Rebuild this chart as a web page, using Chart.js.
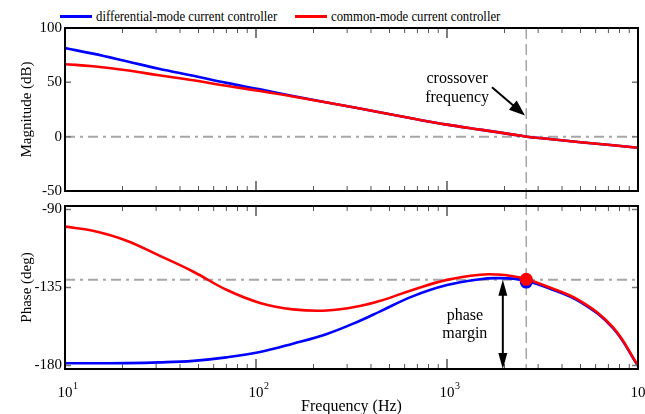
<!DOCTYPE html>
<html>
<head>
<meta charset="utf-8">
<script src="https://cdn.jsdelivr.net/npm/chart.js@4.4.1/dist/chart.umd.min.js"></script>
<style>
  html, body { margin: 0; padding: 0; background: #fff; }
  #wrap { position: relative; width: 645px; height: 414px; overflow: hidden; font-family: 'Liberation Serif', 'Times New Roman', serif; }
  #magBox { position: absolute; left: 0; top: 0; width: 645px; height: 203px; }
  #phaseBox { position: absolute; left: 0; top: 194px; width: 645px; height: 220px; }
  .key { position: absolute; top: 14.5px; width: 32px; height: 3px; }
  .lbl { position: absolute; top: 8px; font-size: 14.5px; line-height: 16px; white-space: nowrap; color: #000;
         transform: scaleX(0.88); transform-origin: 0 0; }
</style>
</head>
<body>
<div id="wrap">
  <div id="legend"></div>
  <div id="magBox"><canvas id="mag"></canvas></div>
  <div id="phaseBox"><canvas id="phase"></canvas></div>
</div>
<script>
// frequency points (Hz) shared by every trace
const freq = [10, 14, 21, 31, 47, 70, 105, 156, 235, 350, 450, 660, 1000, 1490, 1830, 2220, 2620, 3340, 5000, 7400, 10000];

// open-loop magnitude (dB)
const magDM = [81.5, 76.4, 69.4, 62.5, 56.0, 49.5, 43.5, 37.5, 31.5, 25.9, 22.2, 16.7, 11.1, 6.5, 4.2, 1.9, 0, -1.9, -5.1, -7.9, -10.2];
const magCM = [66.7, 64.8, 61.1, 56.5, 51.9, 46.8, 42.1, 37.0, 31.5, 25.9, 22.2, 16.7, 11.1, 6.5, 4.2, 1.9, 0, -1.9, -5.1, -7.9, -10.2];

// open-loop phase (deg)
const phaseDM = [-178.7, -178.7, -178.6, -178.2, -177.3, -175.3, -172.2, -167.4, -161.8, -154.2, -148.6, -140.1, -133.6, -130.2, -129.6, -129.9, -131.2, -135.0, -143.4, -158.5, -180.3];
const phaseCM = [-99.9, -102.3, -108.0, -116.5, -125.9, -136.3, -143.9, -147.6, -148.3, -145.7, -142.6, -136.4, -130.6, -127.6, -127.5, -128.5, -130.2, -134.4, -142.9, -158.0, -180.0];

const seriesNames = ['differential-mode current controller', 'common-mode current controller'];
const seriesColors = ['#0000ff', '#ff0000'];

const magTicks = [-50, 0, 50, 100];
const phaseTicks = [-180, -135, -90];
const decadeTicks = [10, 100, 1000, 10000];

const crossoverFreq = 2600;
const marginPhase = -130.6;
const crossPhase = [-131.9, -130.3]; // DM, CM phase at the crossover

const serif = "'Liberation Serif', 'Times New Roman', serif";
Chart.defaults.font.family = serif;
Chart.defaults.color = '#000';

// legend above the magnitude plot
const legendPos = [[60, 96], [295, 331]];
const legend = document.getElementById('legend');
seriesNames.forEach((name, i) => {
  const key = document.createElement('span');
  key.className = 'key';
  key.style.left = legendPos[i][0] + 'px';
  key.style.background = seriesColors[i];
  const lbl = document.createElement('span');
  lbl.className = 'lbl';
  lbl.style.left = legendPos[i][1] + 'px';
  lbl.textContent = name;
  legend.append(key, lbl);
});

const toXY = (ys) => freq.map((f, i) => ({ x: f, y: ys[i] }));

function arrowHead(ctx, x0, y0, x1, y1, len, half) {
  const ang = Math.atan2(y1 - y0, x1 - x0);
  ctx.beginPath();
  ctx.moveTo(x1, y1);
  ctx.lineTo(x1 - len * Math.cos(ang) + half * Math.sin(ang), y1 - len * Math.sin(ang) - half * Math.cos(ang));
  ctx.lineTo(x1 - len * Math.cos(ang) - half * Math.sin(ang), y1 - len * Math.sin(ang) + half * Math.cos(ang));
  ctx.closePath();
  ctx.fill();
}

// frame, inward ticks, reference lines and decade labels
const bodeFrame = {
  id: 'bodeFrame',
  beforeDatasetsDraw(chart, args, opts) {
    const { ctx, chartArea: a, scales: { x, y } } = chart;
    ctx.save();
    const yr = y.getPixelForValue(opts.refLevel);
    ctx.strokeStyle = '#a6a6a6';
    ctx.lineWidth = 2;
    ctx.setLineDash([10, 5, 3, 5]);
    ctx.beginPath();
    ctx.moveTo(a.left, yr);
    ctx.lineTo(a.right, yr);
    ctx.stroke();

    const xc = x.getPixelForValue(crossoverFreq);
    ctx.lineWidth = 1.5;
    ctx.setLineDash([11, 5]);
    ctx.lineDashOffset = opts.dashOffset;
    ctx.beginPath();
    if (opts.upper) {
      ctx.moveTo(xc, a.top);
      ctx.lineTo(xc, chart.height);
    } else {
      ctx.moveTo(xc, 0);
      ctx.lineTo(xc, a.bottom);
    }
    ctx.stroke();
    ctx.restore();
  },
  afterDraw(chart, args, opts) {
    const { ctx, chartArea: a, scales: { x, y } } = chart;
    ctx.save();
    ctx.strokeStyle = '#555';
    for (let e = 1; e <= 3; e++) {
      for (let m = 1; m <= 9; m++) {
        const px = x.getPixelForValue(m * Math.pow(10, e));
        const len = m === 1 ? 10 : 5;
        ctx.lineWidth = m === 1 ? 1.5 : 1;
        ctx.beginPath();
        ctx.moveTo(px, a.top);
        ctx.lineTo(px, a.top + len);
        ctx.moveTo(px, a.bottom);
        ctx.lineTo(px, a.bottom - len);
        ctx.stroke();
      }
    }
    ctx.lineWidth = 1.5;
    ctx.strokeStyle = '#777';
    y.ticks.forEach((t) => {
      const py = y.getPixelForValue(t.value);
      ctx.beginPath();
      ctx.moveTo(a.left, py);
      ctx.lineTo(a.left + 6, py);
      ctx.moveTo(a.right, py);
      ctx.lineTo(a.right - 6, py);
      ctx.stroke();
    });
    ctx.strokeStyle = '#000';
    ctx.lineWidth = 2;
    ctx.strokeRect(a.left, a.top, a.right - a.left, a.bottom - a.top);

    if (opts.decadeLabels) {
      ctx.fillStyle = '#000';
      decadeTicks.forEach((v) => {
        const px = x.getPixelForValue(v);
        ctx.font = '15px ' + serif;
        ctx.textAlign = 'center';
        ctx.textBaseline = 'alphabetic';
        const w = ctx.measureText('10').width;
        ctx.fillText('10', px, a.bottom + 28);
        ctx.font = '10px ' + serif;
        ctx.textAlign = 'left';
        ctx.fillText(String(Math.round(Math.log10(v))), px + w / 2 + 0.5, a.bottom + 20);
      });
    }
    ctx.restore();
  }
};

// "crossover frequency" note with arrow
const crossoverNote = {
  id: 'crossoverNote',
  afterDraw(chart) {
    const { ctx, scales: { x, y } } = chart;
    ctx.save();
    ctx.fillStyle = '#000';
    ctx.strokeStyle = '#000';
    ctx.font = '16px ' + serif;
    ctx.textAlign = 'center';
    ctx.textBaseline = 'middle';
    ctx.fillText('crossover', x.getPixelForValue(1130), y.getPixelForValue(53.7));
    ctx.fillText('frequency', x.getPixelForValue(1130), y.getPixelForValue(36.1));
    const x0 = x.getPixelForValue(1720), y0 = y.getPixelForValue(45.4);
    const x1 = x.getPixelForValue(2560), y1 = y.getPixelForValue(19.4);
    ctx.lineWidth = 2;
    ctx.beginPath();
    ctx.moveTo(x0, y0);
    ctx.lineTo(x1 - (x1 - x0) * 0.3, y1 - (y1 - y0) * 0.3);
    ctx.stroke();
    arrowHead(ctx, x0, y0, x1, y1, 16, 6);
    ctx.restore();
  }
};

// "phase margin" note with double arrow
const marginNote = {
  id: 'marginNote',
  afterDraw(chart) {
    const { ctx, chartArea: a, scales: { x, y } } = chart;
    ctx.save();
    ctx.fillStyle = '#000';
    ctx.strokeStyle = '#000';
    ctx.font = '16px ' + serif;
    ctx.textAlign = 'center';
    ctx.textBaseline = 'middle';
    ctx.fillText('phase', x.getPixelForValue(1240), y.getPixelForValue(-151.4));
    ctx.fillText('margin', x.getPixelForValue(1240), y.getPixelForValue(-161.6));
    const xa = x.getPixelForValue(1960);
    const yTop = y.getPixelForValue(marginPhase);
    const yBot = a.bottom;
    ctx.lineWidth = 2;
    ctx.beginPath();
    ctx.moveTo(xa, yTop + 10);
    ctx.lineTo(xa, yBot - 10);
    ctx.stroke();
    arrowHead(ctx, xa, yBot, xa, yTop, 16, 4.5);
    arrowHead(ctx, xa, yTop, xa, yBot, 16, 4.5);
    ctx.restore();
  }
};

const lineSet = (ys, i, order) => ({
  label: seriesNames[i],
  data: toXY(ys),
  borderColor: seriesColors[i],
  backgroundColor: seriesColors[i],
  borderWidth: 2.6,
  pointRadius: 0,
  tension: 0.4,
  order
});

const xScale = (height) => ({
  type: 'logarithmic',
  min: 10,
  max: 10000,
  grid: { display: false, drawTicks: false },
  border: { display: false },
  ticks: { display: false },
  afterBuildTicks: (s) => { s.ticks = decadeTicks.map((v) => ({ value: v })); },
  afterFit: (s) => { s.height = height; }
});

const yScale = (min, max, ticks, title) => ({
  min,
  max,
  grid: { display: false, drawTicks: false },
  border: { display: false },
  ticks: { font: { size: 15 }, padding: 3, callback: (v) => String(v) },
  afterBuildTicks: (s) => { s.ticks = ticks.map((v) => ({ value: v })); },
  afterFit: (s) => { s.width = 65; },
  title: { display: true, text: title, font: { size: 15 }, padding: { top: 18, bottom: 0 } }
});

new Chart(document.getElementById('mag'), {
  type: 'line',
  data: {
    datasets: [lineSet(magDM, 0, 1), lineSet(magCM, 1, 0)]
  },
  options: {
    responsive: true,
    maintainAspectRatio: false,
    animation: false,
    events: [],
    layout: { padding: { top: 28, right: 7, bottom: 0, left: 0 } },
    scales: {
      x: xScale(0),
      y: yScale(-50, 100, magTicks, 'Magnitude (dB)')
    },
    plugins: {
      legend: { display: false },
      tooltip: { enabled: false },
      bodeFrame: { refLevel: 0, upper: true, dashOffset: 0, decadeLabels: false }
    }
  },
  plugins: [bodeFrame, crossoverNote]
});

const phaseX = xScale(45);
phaseX.title = { display: true, text: 'Frequency (Hz)', font: { size: 16 }, padding: { top: 0, bottom: -2 } };

new Chart(document.getElementById('phase'), {
  type: 'line',
  data: {
    datasets: [
      lineSet(phaseDM, 0, 1),
      lineSet(phaseCM, 1, 0),
      { data: [{ x: crossoverFreq, y: crossPhase[0] }], showLine: false, pointRadius: 6.5, pointBorderWidth: 0,
        backgroundColor: seriesColors[0], order: -1 },
      { data: [{ x: crossoverFreq, y: crossPhase[1] }], showLine: false, pointRadius: 6.5, pointBorderWidth: 0,
        backgroundColor: seriesColors[1], order: -2 }
    ]
  },
  options: {
    responsive: true,
    maintainAspectRatio: false,
    animation: false,
    events: [],
    layout: { padding: { top: 0, right: 7, bottom: 0, left: 0 } },
    scales: {
      x: phaseX,
      y: yScale(-182, -88, phaseTicks, 'Phase (deg)')
    },
    plugins: {
      legend: { display: false },
      tooltip: { enabled: false },
      bodeFrame: { refLevel: marginPhase, upper: false, dashOffset: 166, decadeLabels: true }
    }
  },
  plugins: [bodeFrame, marginNote]
});
</script>
</body>
</html>
